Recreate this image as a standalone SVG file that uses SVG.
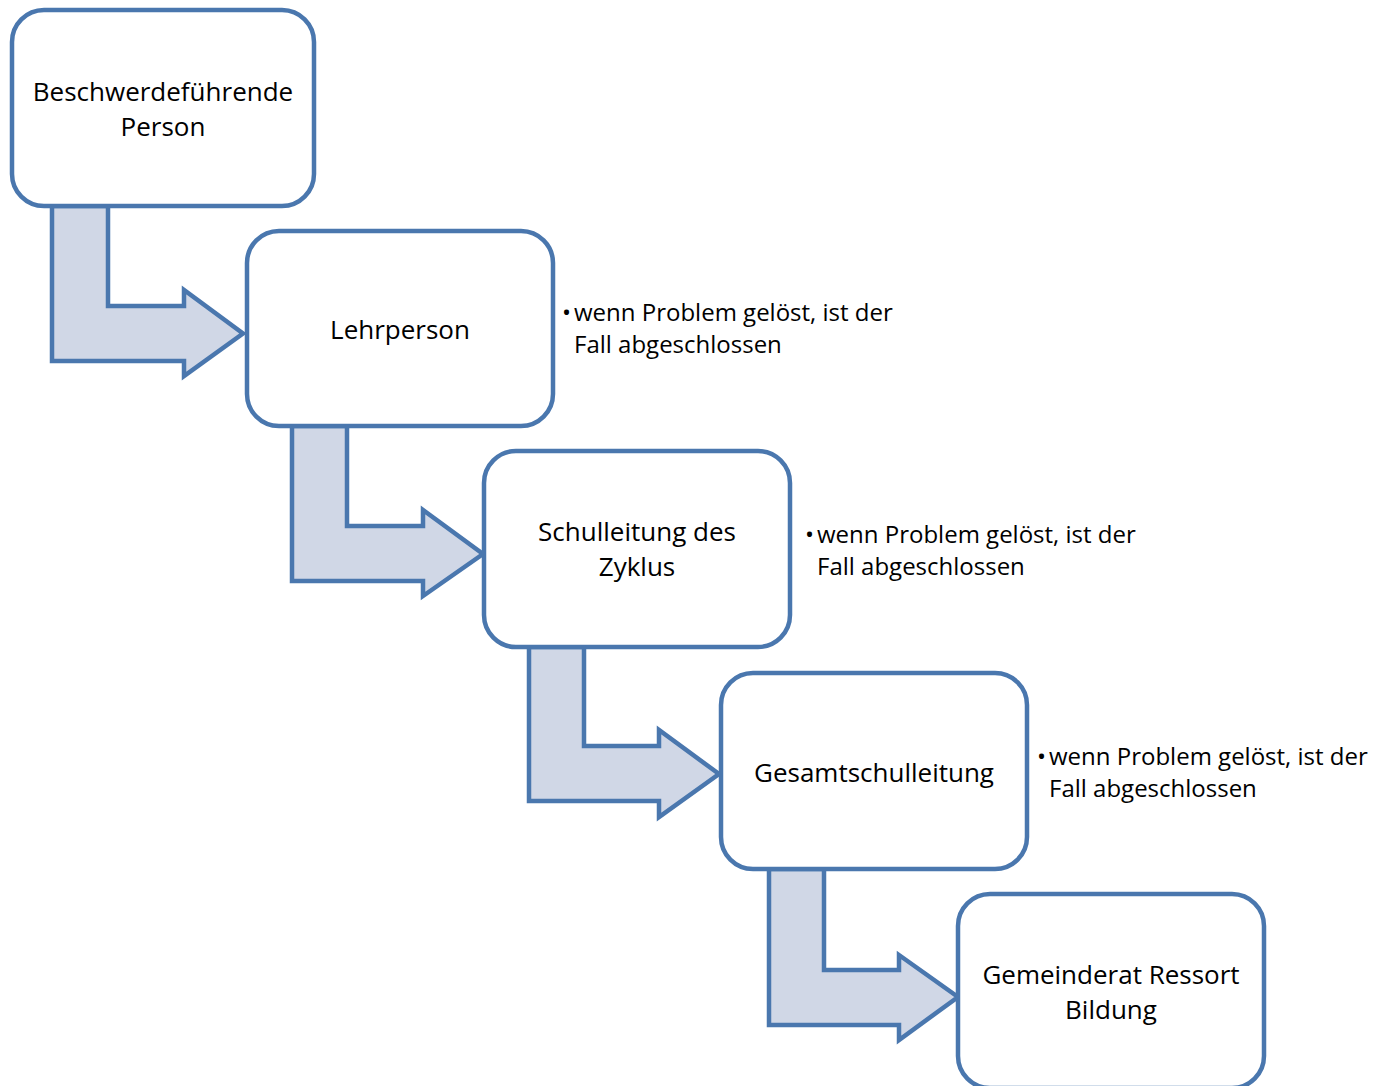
<svg xmlns="http://www.w3.org/2000/svg" width="1386" height="1086" viewBox="0 0 1386 1086">
<style>
.box{fill:#FFFFFF;stroke:#4A77AE;stroke-width:4.5}
.arr{fill:#D0D7E6;stroke:#4A77AE;stroke-width:4.5;stroke-linejoin:miter}
.lbl{font-family:"Open Sans","Liberation Sans",sans-serif;font-size:26px;fill:#000;text-anchor:middle}
.note{font-family:"Open Sans","Liberation Sans",sans-serif;font-size:24px;fill:#000}
</style>
<rect width="1386" height="1086" fill="#FFFFFF"/>
<g id="connectors">
<path class="arr" d="M52,206 L108,206 L108,306 L184,306 L184,290 L243,333.5 L184,376 L184,361 L52,361 Z"/>
<path class="arr" d="M292,426 L347,426 L347,526 L423,526 L423,510 L483,554 L423,596 L423,581 L292,581 Z"/>
<path class="arr" d="M529,647 L584,647 L584,746 L659,746 L659,730 L719,774 L659,817 L659,801 L529,801 Z"/>
<path class="arr" d="M769,869 L824,869 L824,970 L899,970 L899,955 L958,997 L899,1040 L899,1025 L769,1025 Z"/>
</g>
<g id="n1">
<rect class="box" x="12" y="10" width="302" height="196" rx="32"/>
<text class="lbl" x="163" y="101">Beschwerdeführende</text>
<text class="lbl" x="163" y="136">Person</text>
</g>
<g id="n2">
<rect class="box" x="247" y="231" width="306" height="195" rx="32"/>
<text class="lbl" x="400" y="339">Lehrperson</text>
</g>
<g id="n3">
<rect class="box" x="484" y="451" width="306" height="196" rx="32"/>
<text class="lbl" x="637" y="541">Schulleitung des</text>
<text class="lbl" x="637" y="576">Zyklus</text>
</g>
<g id="n4">
<rect class="box" x="721" y="673" width="306" height="196" rx="32"/>
<text class="lbl" x="874" y="782">Gesamtschulleitung</text>
</g>
<g id="n5">
<rect class="box" x="958" y="894" width="306" height="194" rx="32"/>
<text class="lbl" x="1111" y="984">Gemeinderat Ressort</text>
<text class="lbl" x="1111" y="1019">Bildung</text>
</g>
<g id="notes">
<text class="note" x="562" y="321">•</text>
<text class="note" x="574" y="321">wenn Problem gelöst, ist der</text>
<text class="note" x="574" y="353">Fall abgeschlossen</text>
<text class="note" x="805" y="543">•</text>
<text class="note" x="817" y="543">wenn Problem gelöst, ist der</text>
<text class="note" x="817" y="575">Fall abgeschlossen</text>
<text class="note" x="1037" y="765">•</text>
<text class="note" x="1049" y="765">wenn Problem gelöst, ist der</text>
<text class="note" x="1049" y="797">Fall abgeschlossen</text>
</g>
</svg>
